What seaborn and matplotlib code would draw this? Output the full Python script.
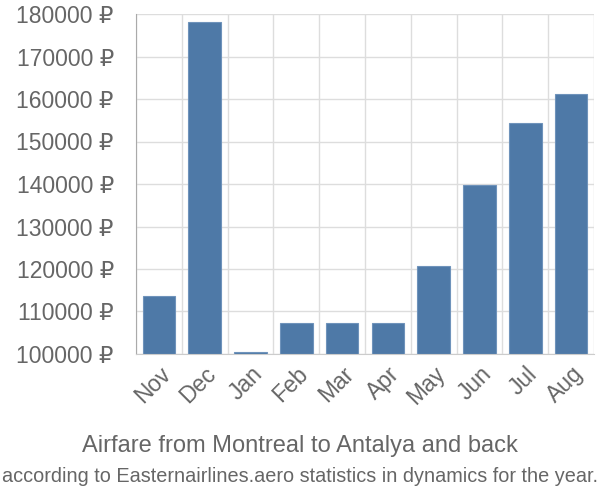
import matplotlib
matplotlib.use("Agg")
import matplotlib.pyplot as plt
import seaborn as sns
import pandas as pd
import numpy as np
from matplotlib.ticker import FixedLocator, FuncFormatter

months = ["Nov", "Dec", "Jan", "Feb", "Mar", "Apr", "May", "Jun", "Jul", "Aug"]
prices = [113650, 178200, 100400, 107200, 107200, 107200, 120700, 139800, 154300, 161100]
yticks = [100000, 110000, 120000, 130000, 140000, 150000, 160000, 170000, 180000]
title = "Airfare from Montreal to Antalya and back"
subtitle = "according to Easternairlines.aero statistics in dynamics for the year."

sns.set_style("white")
plt.rcParams['font.family'] = ['Liberation Sans', 'DejaVu Sans']

df = pd.DataFrame({"month": months, "price": prices})

fig = plt.figure(figsize=(6, 5), dpi=100)
ax = fig.add_axes([136/600, 1-354/500, (594-136)/600, (354-14)/500])

bar_color = "#4e79a7"
sns.barplot(data=df, x="month", y="price", color=bar_color, width=0.71,
            edgecolor="#6f93bb", linewidth=0.8, ax=ax, saturation=1)

ax.set_ylim(100000, 180000)
ax.set_xlim(-0.5, len(months) - 0.5)
ax.set_yticks(yticks)
ax.yaxis.set_major_formatter(FuncFormatter(lambda v, p: f"{int(v)} ₽"))

ax.xaxis.set_minor_locator(FixedLocator(np.arange(-0.5, len(months), 1.0)))
ax.grid(True, which="minor", axis="x", color="#dddddd", linewidth=1)
ax.grid(True, which="major", axis="y", color="#dddddd", linewidth=1)
ax.set_axisbelow(True)

ax.tick_params(axis="x", which="major", length=0, labelsize=16.5, labelcolor="#666666", pad=6)
ax.tick_params(axis="x", which="minor", length=13, color="#dddddd", width=1)
ax.tick_params(axis="y", which="major", length=14, color="#dddddd", width=1,
               labelsize=16.5, labelcolor="#666666", pad=2)
for lbl in ax.get_xticklabels():
    lbl.set_rotation(45)
    lbl.set_ha("right")
    lbl.set_rotation_mode("anchor")
    lbl.set_x(lbl.get_position()[0])

ax.set_xlabel("")
ax.set_ylabel("")
for s in ["top", "right"]:
    ax.spines[s].set_visible(False)
ax.spines["left"].set_color("#aaaaaa")
ax.spines["bottom"].set_color("#cccccc")

fig.text(0.5, 1-446/500, title, ha="center", va="center", fontsize=17, color="#666666")
fig.text(0.5, 1-477/500, subtitle, ha="center", va="center", fontsize=14.3, color="#666666")

fig.savefig("out.png", dpi=100)
